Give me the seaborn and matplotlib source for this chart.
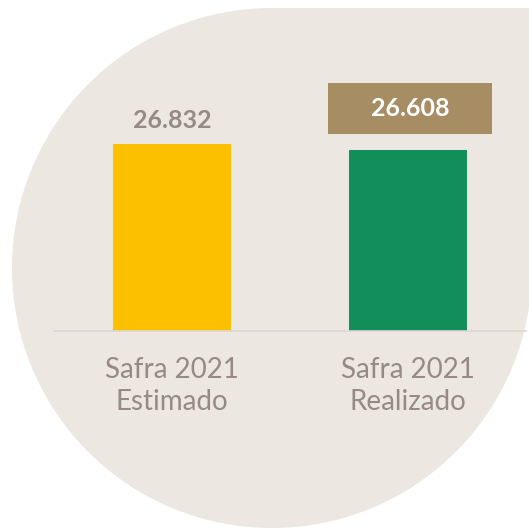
import matplotlib
matplotlib.use("Agg")
import matplotlib.pyplot as plt
import matplotlib.patches as mpatches
import seaborn as sns
import pandas as pd

# ----------------------------
# DATA
# ----------------------------
categories = ["Safra 2021\nEstimado", "Safra 2021\nRealizado"]
values = [26832, 26608]
value_labels = ["26.832", "26.608"]
bar_colors = ["#fdc000", "#128e5a"]

# ----------------------------
# STYLE
# ----------------------------
sns.set_style("white")
plt.rcParams["font.family"] = ["Lato", "DejaVu Sans"]

BG = "#ece7e1"
TEXT = "#958a86"
BOX = "#a68d64"

W, H = 529, 532
fig = plt.figure(figsize=(W / 100, H / 100), dpi=100)

# background shape: circle with squared-off top-right quadrant
bg = fig.add_axes([0, 0, 1, 1])
bg.set_xlim(0, W)
bg.set_ylim(H, 0)
bg.axis("off")
cx, cy, r = 272, 268, 260
bg.add_patch(mpatches.Circle((cx, cy), r, color=BG, lw=0))
bg.add_patch(mpatches.Rectangle((cx, cy - r), r, r, color=BG, lw=0))

# ----------------------------
# BAR CHART
# ----------------------------
ax_left, ax_right = 54, 526
ax_bottom, ax_top = 331, 20
ax = fig.add_axes([ax_left / W, (H - ax_bottom) / H,
                   (ax_right - ax_left) / W, (ax_bottom - ax_top) / H])
ax.patch.set_alpha(0)

df = pd.DataFrame({"cat": categories, "val": values})
sns.barplot(data=df, x="cat", y="val", hue="cat", palette=bar_colors,
            width=0.5, legend=False, ax=ax, saturation=1, linewidth=0)

ymin = 19850
px_per_unit = 0.0268
ax.set_ylim(ymin, ymin + (ax_bottom - ax_top) / px_per_unit)
ax.set_xlim(-0.5, 1.5)

for s in ["top", "right", "left"]:
    ax.spines[s].set_visible(False)
ax.spines["bottom"].set_color("#dcd7d2")
ax.spines["bottom"].set_linewidth(1.2)
ax.set_yticks([])
ax.set_xlabel("")
ax.set_ylabel("")
ax.tick_params(axis="x", length=0, pad=19, labelsize=20, labelcolor=TEXT)
for t in ax.get_xticklabels():
    t.set_linespacing(1.25)

# value labels
ax.annotate(value_labels[0], xy=(0, values[0]), xytext=(0, 17),
            textcoords="offset points", ha="center", va="center",
            fontsize=18, fontweight="bold", color=TEXT)

# highlighted label on the second bar
box_w = 0.695
box_lo = values[1] + 16 / px_per_unit
box_h = 51 / px_per_unit
ax.add_patch(mpatches.Rectangle((1 - box_w / 2 + 0.01, box_lo), box_w, box_h,
                                color=BOX, lw=0, clip_on=False))
ax.text(1.01, box_lo + box_h * 0.5, value_labels[1], ha="center", va="center",
        fontsize=18, fontweight="bold", color="white")

fig.savefig("out.png", dpi=100, facecolor="white")
